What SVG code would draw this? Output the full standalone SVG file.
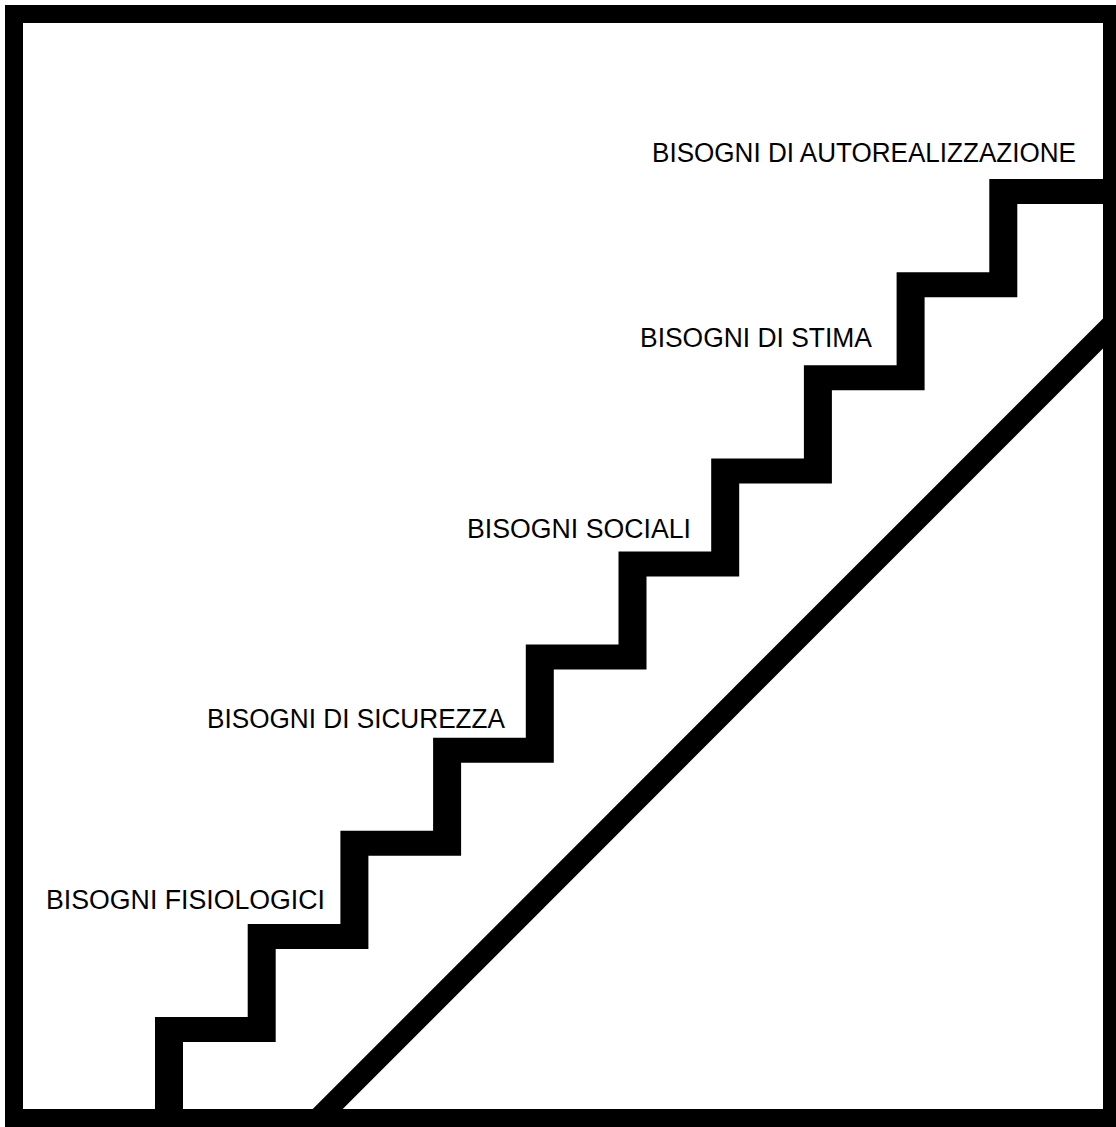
<svg xmlns="http://www.w3.org/2000/svg" width="1116" height="1127" viewBox="0 0 1116 1127">
  <style>
    .lbl { font-family: "Liberation Sans", Arial, sans-serif; font-size: 27px; fill: #000; }
    .ink { fill: #000; stroke: none; }
  </style>
  <rect x="0" y="0" width="1116" height="1127" fill="#fff"/>
  <g id="frame">
    <rect x="14" y="14" width="1098" height="1104" fill="none" stroke="#000" stroke-width="18"/>
  </g>
  <g id="staircase">
    <path class="ink" d="M155,1110 V1017 H247.7 V923.9 H340.4 V830.8 H433.1 V737.7 H525.8 V644.6 H618.5 V551.5 H711.2 V458.4 H803.9 V365.3 H896.6 V272.2 H989.3 V179.1 H1104 V204.1 H1017.3 V297.2 H924.6 V390.3 H831.9 V483.4 H739.2 V576.5 H646.5 V669.6 H553.8 V762.7 H461.1 V855.8 H368.4 V948.9 H275.7 V1042 H183 V1110 Z"/>
  </g>
  <g id="connectors">
    <path class="ink" d="M311.7,1110 L341.7,1110 L1104,347.5 L1104,317.5 Z"/>
  </g>
  <g id="node-fisiologici">
    <text class="lbl" x="46" y="909" textLength="279" lengthAdjust="spacingAndGlyphs">BISOGNI FISIOLOGICI</text>
  </g>
  <g id="node-sicurezza">
    <text class="lbl" x="207" y="728" textLength="298" lengthAdjust="spacingAndGlyphs">BISOGNI DI SICUREZZA</text>
  </g>
  <g id="node-sociali">
    <text class="lbl" x="467" y="538" textLength="224" lengthAdjust="spacingAndGlyphs">BISOGNI SOCIALI</text>
  </g>
  <g id="node-stima">
    <text class="lbl" x="640" y="347" textLength="232" lengthAdjust="spacingAndGlyphs">BISOGNI DI STIMA</text>
  </g>
  <g id="node-autorealizzazione">
    <text class="lbl" x="652" y="162" textLength="424" lengthAdjust="spacingAndGlyphs">BISOGNI DI AUTOREALIZZAZIONE</text>
  </g>
</svg>
